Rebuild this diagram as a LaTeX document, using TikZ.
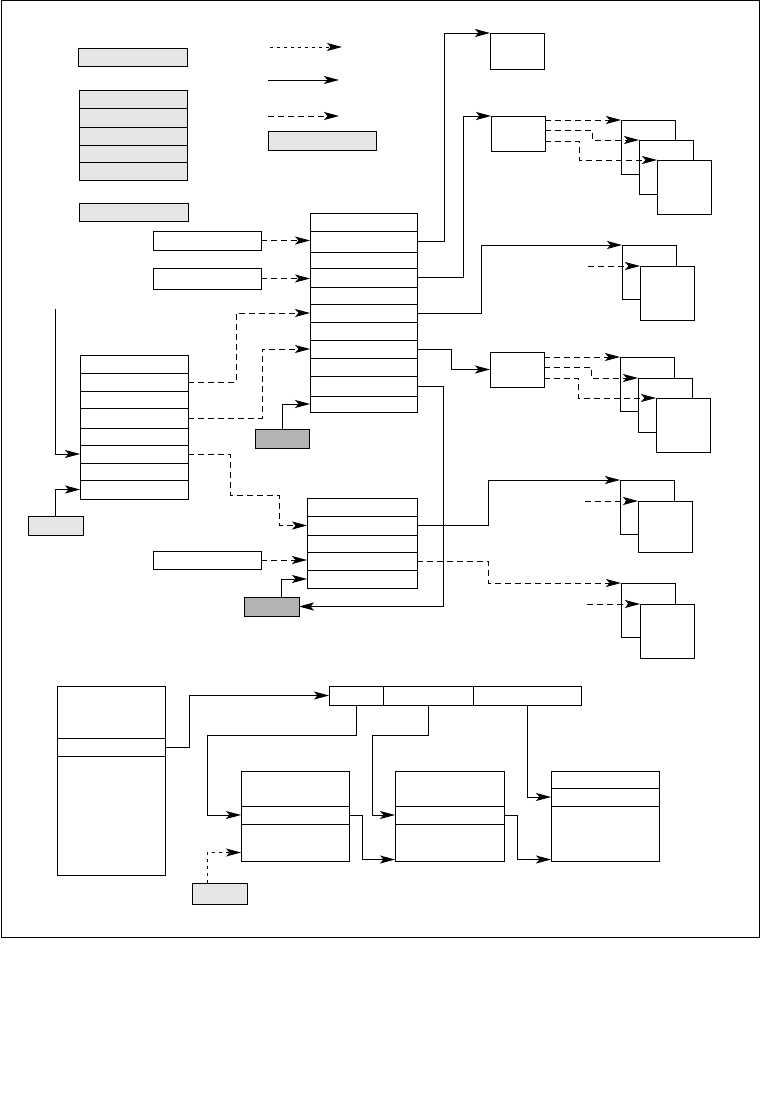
\documentclass[tikz,border=0pt]{standalone}
\usetikzlibrary{arrows.meta,calc}
\definecolor{lgray}{HTML}{E6E6E6}
\definecolor{dgray}{HTML}{B3B3B3}
\tikzset{
  x=1pt,y=-1pt,
  bx/.style={draw=black,line width=0.9pt,fill=white,inner sep=0pt,outer sep=0pt,anchor=north west},
  lg/.style={fill=lgray},
  dg/.style={fill=dgray},
  con/.style={line width=0.9pt,-{Stealth[length=15pt,width=8pt,inset=3.5pt]}},
  dsh/.style={con,dash pattern=on 6pt off 4pt},
  dot/.style={con,dash pattern=on 3pt off 4pt},
}
\newcommand\mybox[6][]{\node[bx,#1,minimum width={#5-#3},minimum height={#6-#4}] (#2) at (#3,#4) {};}
\begin{document}
\begin{tikzpicture}
\useasboundingbox (0,0) rectangle (760,1107);
\draw[line width=1pt] (1,1) rectangle (759,937);

% legend
\mybox[lg]{g1}{78}{48}{187}{66}
\foreach \i/\a/\b in {1/90/108,2/108/127,3/127/145,4/145/162,5/162/180}{\mybox[lg]{gs\i}{79}{\a}{187}{\b}}
\mybox[lg]{g3}{79}{203}{188}{221}
\mybox[lg]{gl}{268}{131}{376}{150}
\coordinate (l1s) at (270,47); \coordinate (l1e) at (342,47);
\coordinate (l2s) at (268,80); \coordinate (l2e) at (339,80);
\coordinate (l3s) at (268,116); \coordinate (l3e) at (339,116);
\draw[dot] (l1s) -- (l1e);
\draw[con] (l2s) -- (l2e);
\draw[dsh] (l3s) -- (l3e);

% middle stack
\foreach \i/\a/\b in {1/213/231,2/231/252,3/252/268,4/268/287,5/287/304,6/304/322,7/322/340,8/340/358,9/358/376,10/376/396,11/396/412}{\mybox{m\i}{310}{\a}{417}{\b}}
% left stack
\foreach \i/\a/\b in {1/355/373,2/373/391,3/391/408,4/408/428,5/428/445,6/445/463,7/463/480,8/480/499}{\mybox{L\i}{80}{\a}{188}{\b}}
% lower stack
\foreach \i/\a/\b in {1/498/516,2/516/535,3/535/552,4/552/570,5/570/588}{\mybox{N\i}{307}{\a}{417}{\b}}

\mybox{A}{153}{231}{261}{250}
\mybox{B}{153}{268}{261}{289}
\mybox{E}{153}{551}{261}{569}
\mybox[dg]{K1}{255}{429}{309}{448}
\mybox[dg]{K2}{244}{597}{299}{616}
\mybox[lg]{H}{28}{516}{83}{535}

% right boxes
\mybox{C1}{490}{33}{544}{69}
\mybox{C2}{491}{116}{545}{151}
\mybox{D}{490}{352}{544}{387}
\mybox{S1}{621}{120}{675}{174}
\mybox{S2}{639}{140}{693}{194}
\mybox{S3}{657}{160}{711}{214}
\mybox{T1}{622}{245}{676}{299}
\mybox{T2}{640}{266}{694}{320}
\mybox{U1}{620}{357}{674}{411}
\mybox{U2}{638}{378}{692}{432}
\mybox{U3}{656}{398}{710}{452}
\mybox{V1}{620}{480}{674}{534}
\mybox{V2}{638}{501}{692}{552}
\mybox{W1}{621}{583}{675}{637}
\mybox{W2}{640}{604}{694}{658}

% bottom section
\mybox{bA}{57}{686}{165}{738}
\mybox{bB}{57}{738}{165}{756}
\mybox{bC}{57}{756}{165}{875}
\mybox{c1}{329}{686}{383}{705}
\mybox{c2}{383}{686}{473}{705}
\mybox{c3}{473}{686}{581}{705}
\mybox{f1a}{241}{771}{349}{806}
\mybox{f1b}{241}{806}{349}{824}
\mybox{f1c}{241}{824}{349}{861}
\mybox{f2a}{395}{771}{504}{806}
\mybox{f2b}{395}{806}{504}{824}
\mybox{f2c}{395}{824}{504}{861}
\mybox{f3a}{551}{771}{659}{788}
\mybox{f3b}{551}{788}{659}{806}
\mybox{f3c}{551}{806}{659}{861}
\mybox[lg]{G}{192}{883}{247}{904}

% connectors into middle stack
\draw[dsh] (A.east) -- (A.east -| m2.west);
\draw[dsh] (B.east) -- (B.east -| m4.west);
\draw[dsh] (L2.east) -- ++(48,0) |- (m6.west);
\draw[dsh] (L4.east) -- ++(74,0) |- (m8.west);
\draw[con] (K1.north) |- (m11.west);
% into left stack
\coordinate (lv) at (55,309);
\draw[con] (lv) |- (L6.west);
\draw[con] (H.north) |- (L8.west);
% into lower stack
\draw[dsh] (L6.east) -- ++(42,0) -- ++(0,41) -| ($(N2.west)+(-28,0)$) -- (N2.west);
\draw[dsh] (E.east) -- (E.east -| N4.west);
\draw[con] ([xshift=10pt]K2.north) |- (N5.west);
% out of middle stack
\draw[con] (m2.east) -- ++(27,0) |- (C1.north west);
\draw[con] (m4.east) -- ++(46,0) |- (C2.north west);
\draw[con] (m6.east) -- ++(64,0) |- (T1.north west);
\draw[con] (m8.east) -- ++(34,0) |- (D.west);
\draw[con] (m10.east) -- ++(26,0) |- (K2.east);
% out of lower stack
\draw[con] (N2.east) -- ++(71,0) |- (V1.north west);
\draw[dsh] (N4.east) -- ++(71,0) |- (W1.north west);
% from C2
\draw[dsh] (C2.east |- S1.north west) -- (S1.north west);
\draw[dsh] ($(C2.north east)+(0,14)$) -| ($(S2.north west)+(-47,0)$) -- (S2.north west);
\draw[dsh] ($(C2.north east)+(0,25)$) -| ($(S3.north west)+(-78,0)$) -- (S3.north west);
% from D
\draw[dsh] (D.east |- U1.north west) -- (U1.north west);
\draw[dsh] ($(D.north east)+(0,15)$) -| ($(U2.north west)+(-47,0)$) -- (U2.north west);
\draw[dsh] ($(D.north east)+(0,26)$) -| ($(U3.north west)+(-78,0)$) -- (U3.north west);
% free dashed arrows
\coordinate (t2s) at (588,266); \draw[dsh] (t2s) -- (T2.north west);
\coordinate (v2s) at (585,501); \draw[dsh] (v2s) -- (V2.north west);
\coordinate (w2s) at (587,604); \draw[dsh] (w2s) -- (W2.north west);

% bottom connectors
\draw[con] (bB.east) -- ++(24,0) |- (c1.west);
\draw[con] (c1.south) |- (207,735) |- (f1b.west);
\draw[con] (c2.south) |- (372,735) |- (f2b.west);
\draw[con] (c3.south) |- (f3b.west);
\draw[con] (f1b.east) -- ++(13,0) |- ([yshift=1.5pt]f2c.south west);
\draw[con] (f2b.east) -- ++(13,0) |- ([yshift=1.5pt]f3c.south west);
\draw[dot] ([xshift=-12.5pt]G.north) |- ([yshift=-10pt]f1c.west);
\end{tikzpicture}
\end{document}
